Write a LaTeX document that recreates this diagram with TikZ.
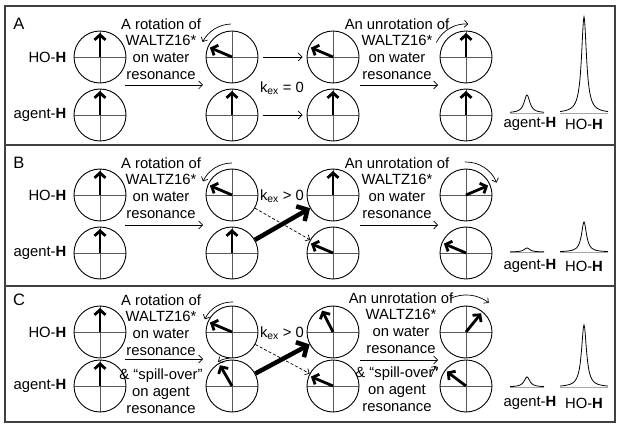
\documentclass[tikz,border=0pt]{standalone}
\usepackage{fontspec}
\setmainfont{Liberation Sans}
\usetikzlibrary{arrows.meta,positioning}

\begin{document}
\begin{tikzpicture}[x=1pt, y=-1pt,
    spin/.style={draw, circle, minimum size=52pt, inner sep=0pt, line width=0.9pt,
      path picture={\draw[black!65, line width=0.8pt]
        (path picture bounding box.north) -- (path picture bounding box.south)
        (path picture bounding box.west) -- (path picture bounding box.east);}},
    vec/.style={line width=2.8pt, -{Straight Barb[length=5pt,width=11pt]}},
    flow/.style={line width=0.7pt, -{Straight Barb[length=4pt,width=8pt]}},
    turn/.style={line width=0.7pt, -{Straight Barb[length=3.5pt,width=7pt]}},
    xfer/.style={line width=4.5pt, -{Straight Barb[length=8pt,width=17pt]}},
    leak/.style={line width=0.7pt, dash pattern=on 3pt off 2pt, -{Straight Barb[length=3.5pt,width=7pt]}},
    txt/.style={align=center, inner sep=0pt, font=\fontsize{14.8}{16.8}\selectfont},
    lbl/.style={inner sep=0pt, font=\fontsize{14.8}{16.8}\selectfont},
    letter/.style={inner sep=0pt, font=\fontsize{16.5}{18}\selectfont},
    panel/.style={draw=black!75, line width=1.6pt},
    peak/.style={line width=0.8pt},
    floor/.style={black!35, line width=0.5pt}]
\useasboundingbox (0,0) rectangle (621,430);

% Cadres
\draw[panel] (5,6) rectangle (615,145);
\draw[panel] (5,145) rectangle (615,286);
\draw[panel] (5,286) rectangle (615,422);
\node[letter] (lA) at (19,24) {A};
\node[letter] (lB) at (19,163) {B};
\node[letter] (lC) at (19,300) {C};

% Spins
\foreach \p/\yt/\yb in {A/57/115, B/195/253, C/332/386} {
  \foreach \c/\xc in {1/100, 2/232, 3/333, 4/466} {
    \node[spin] (h\p\c) at (\xc,\yt) {};
    \node[spin] (a\p\c) at (\xc,\yb) {};
  }
  \node[lbl, left=7pt of h\p1] (ho\p) {HO-\textbf{H}};
  \node[lbl, left=7pt of a\p1] (ag\p) {agent-\textbf{H}};
}

% Aimantations
\foreach \n/\a in {hA1/90, aA1/90, hA2/157, aA2/90, hA3/157, aA3/90, hA4/90, aA4/90,
                   hB1/90, aB1/90, hB2/157, aB2/90, hB3/90, aB3/157, hB4/23, aB4/157,
                   hC1/90, aC1/90, hC2/157, aC2/120, hC3/117, aC3/157, hC4/51, aC4/143}
  \draw[vec] (\n.center) -- ++(\a:24pt);

% Rotation et retour (A, B)
\foreach \p/\yc/\ya in {A/49/85, B/188/225} {
  \node[txt] (rot\p) at (161,\yc) {A rotation of\\WALTZ16*\\on water\\resonance};
  \node[txt] (unr\p) at (397,\yc) {An unrotation of\\WALTZ16*\\on water\\resonance};
  \coordinate (rot\p0) at (125,\ya);
  \coordinate (rot\p1) at (203,\ya);
  \coordinate (unr\p0) at (360,\ya);
  \coordinate (unr\p1) at (438,\ya);
  \draw[flow] (rot\p0) -- (rot\p1);
  \draw[flow] (unr\p0) -- (unr\p1);
}

% Rotation et retour (C)
\node[txt] (rotC) at (161,325) {A rotation of\\WALTZ16*\\on water\\resonance};
\node[txt] (spiC) at (161,391) {\& “spill-over”\\on agent\\resonance};
\node[txt] (unrC) at (401,323) {An unrotation of\\WALTZ16*\\on water\\resonance};
\node[txt] (sprC) at (397,389) {\& “spill-over”\\on agent\\resonance};
\coordinate (rotC0) at (125,359);
\coordinate (rotC1) at (203,359);
\coordinate (unrC0) at (360,360);
\coordinate (unrC1) at (438,360);
\draw[flow] (rotC0) -- (rotC1);
\draw[flow] (unrC0) -- (unrC1);

% Fleches courbes
\draw[turn] ([shift={(92:33pt)}]hA2.center) arc[start angle=92, end angle=153, radius=33pt];
\draw[turn] ([shift={(154:33pt)}]hA4.center) arc[start angle=154, end angle=86, radius=33pt];
\draw[turn] ([shift={(90:32pt)}]hB2.center) arc[start angle=90, end angle=155, radius=32pt];
\draw[turn] ([shift={(92:33pt)}]hB4.center) arc[start angle=92, end angle=22, radius=33pt];
\draw[turn] ([shift={(88:30pt)}]hC2.center) arc[start angle=88, end angle=155, radius=30pt];
\draw[turn] ([shift={(95:28pt)}]aC2.center) arc[start angle=95, end angle=120, radius=28pt];
\draw[turn] ([shift={(115:37pt)}]hC4.center) arc[start angle=115, end angle=52, radius=37pt];
\draw[turn] ([shift={(165:36pt)}]aC4.center) arc[start angle=165, end angle=146, radius=36pt];

% Echange
\draw[flow, shorten <=5pt, shorten >=4pt] (hA2) -- (hA3);
\draw[flow, shorten <=5pt, shorten >=4pt] (aA2) -- (aA3);
\node[lbl] (kA) at (282,88) {k\textsubscript{ex} = 0};
\foreach \p/\yk in {B/196, C/333} {
  \node[lbl] (k\p) at (282,\yk) {k\textsubscript{ex} > 0};
  \draw[xfer] (a\p2) -- (h\p3);
  \draw[leak] (h\p2) -- (a\p3);
}

% Spectres
\foreach \px/\yb/\h/\g/\w in {527/113/18/3.5/17, 584/113/96/3/24,
                              527/252/4/3.5/17, 584/252/30/3/24,
                              527/387/10/3.5/17, 584/387/62/3/24} {
  \draw[floor] (\px-\w,\yb) -- (\px+\w,\yb);
  \draw[peak] plot[domain=-\w:\w, samples=97] ({\px+\x}, {\yb-\h*\g*\g/(\x*\x+\g*\g)});
}
\foreach \p/\yl in {A/124, B/266, C/403} {
  \node[lbl] (pa\p) at (530,\yl) {agent-\textbf{H}};
  \node[lbl] (ph\p) at (584,\yl) {HO-\textbf{H}};
}
\end{tikzpicture}
\end{document}
